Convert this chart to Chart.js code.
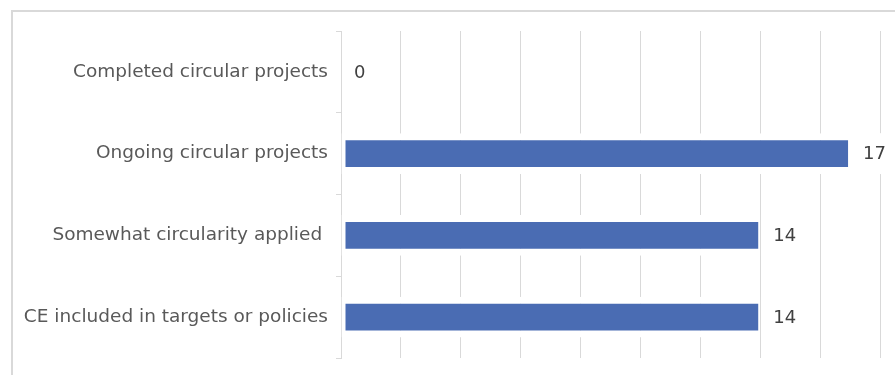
<!DOCTYPE html>
<html>
<head>
<meta charset="utf-8">
<script src="https://cdn.jsdelivr.net/npm/chart.js@4/dist/chart.umd.min.js"></script>
<style>
  html, body { margin: 0; padding: 0; background: #ffffff; }
  #wrap { width: 895px; height: 375px; position: relative; }
</style>
</head>
<body>
<div id="wrap"><canvas id="chart" width="895" height="375"></canvas></div>
<script>
// Categories (top to bottom) and their counts
const categories = [
  'Completed circular projects',
  'Ongoing circular projects',
  'Somewhat circularity applied ',
  'CE included in targets or policies'
];
const counts = [0, 17, 14, 14];

// Value axis range
const axisMin = 0;
const axisMax = 18;
const axisStep = 2;

const FONT = '"DejaVu Sans", Verdana, sans-serif';

// Light frame around the chart (left and top edges visible)
const framePlugin = {
  id: 'frame',
  beforeDraw(chart) {
    const ctx = chart.ctx;
    ctx.save();
    ctx.fillStyle = '#ffffff';
    ctx.fillRect(0, 0, chart.width, chart.height);
    ctx.strokeStyle = '#d9d9d9';
    ctx.lineWidth = 2;
    ctx.strokeRect(12, 11, chart.width + 20, chart.height + 20);
    ctx.restore();
  }
};

// Value labels to the right of each bar, on a white backing
const valueLabels = {
  id: 'valueLabels',
  afterDatasetsDraw(chart) {
    const ctx = chart.ctx;
    const meta = chart.getDatasetMeta(0);
    const xScale = chart.scales.x;
    ctx.save();
    ctx.font = '18px ' + FONT;
    ctx.textBaseline = 'middle';
    ctx.textAlign = 'left';
    meta.data.forEach((bar, i) => {
      const v = counts[i];
      const text = String(v);
      const x = xScale.getPixelForValue(v) + 13;
      const y = bar.y;
      const w = ctx.measureText(text).width;
      const h = bar.height;
      if (v > 0) {
        ctx.fillStyle = '#ffffff';
        ctx.fillRect(x - 5, y - h / 2, w + 10, h);
      }
      ctx.fillStyle = '#404040';
      ctx.fillText(text, x, y + 1);
    });
    ctx.restore();
  }
};

new Chart(document.getElementById('chart'), {
  type: 'bar',
  data: {
    labels: categories,
    datasets: [{
      data: counts,
      backgroundColor: '#4a6cb3',
      borderColor: '#ffffff',
      borderWidth: { top: 7, bottom: 7, left: 4, right: 2 },
      borderSkipped: false,
      barPercentage: 0.5,
      categoryPercentage: 1.0
    }]
  },
  options: {
    indexAxis: 'y',
    responsive: false,
    animation: false,
    devicePixelRatio: 1,
    layout: { padding: { left: 12, right: 15, top: 31, bottom: 17 } },
    plugins: {
      legend: { display: false },
      tooltip: { enabled: false }
    },
    scales: {
      x: {
        type: 'linear',
        min: axisMin,
        max: axisMax,
        afterFit(scale) { scale.height = 0; },
        ticks: { display: false, stepSize: axisStep },
        grid: { color: '#d9d9d9', lineWidth: 1, drawTicks: false },
        border: { display: false }
      },
      y: {
        type: 'category',
        afterFit(scale) {
          scale.width = 329;
          scale.paddingTop = 0;
          scale.paddingBottom = 0;
        },
        ticks: {
          color: '#595959',
          font: { family: FONT, size: 18.5 },
          padding: 8
        },
        grid: {
          offset: true,
          drawOnChartArea: false,
          drawTicks: true,
          tickLength: 5,
          color: '#d9d9d9',
          lineWidth: 1
        },
        border: { display: true, color: '#d9d9d9', width: 1 }
      }
    }
  },
  plugins: [framePlugin, valueLabels]
});
</script>
</body>
</html>
